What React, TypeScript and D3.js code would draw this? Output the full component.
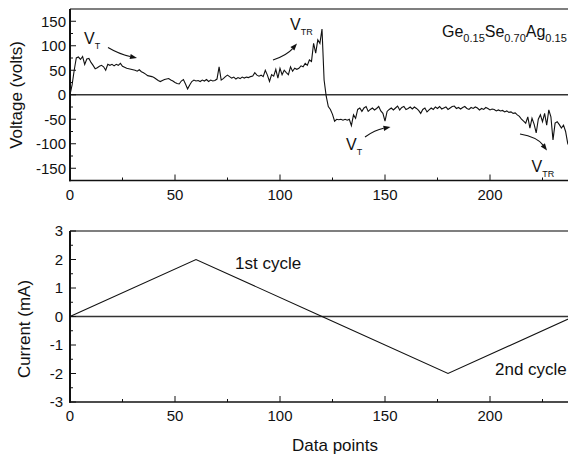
import React from "react";
import * as d3 from "d3";

// Voltage (volts) per data point, index 0..237
const voltage: number[] = [
  0, 20, 50, 75, 77, 72, 78, 62, 73, 74, 66,
  60, 53, 55, 58, 60, 57, 50, 62, 60, 62,
  59, 62, 60, 64, 58, 56, 54, 53, 52, 51,
  50, 48, 51, 47, 45, 42, 39, 38, 37, 35,
  32, 29, 27, 29, 31, 32, 33, 30, 28, 25,
  23, 22, 28, 31, 22, 12, 20, 27, 30, 28,
  29, 27, 30, 28, 31, 27, 30, 28, 29, 32,
  57, 30, 33, 37, 40, 37, 34, 36, 32, 35,
  33, 36, 34, 36, 35, 37, 38, 45, 40, 38,
  40, 37, 50, 40, 27, 41, 38, 52, 34, 54,
  41, 50, 45, 41, 57, 48, 54, 52, 54, 59,
  57, 64, 60, 71, 68, 105, 85, 112, 105, 134,
  30, -3, -24, -30, -40, -54, -50, -51, -50, -52,
  -50, -52, -50, -63, -41, -48, -30, -27, -34, -27,
  -24, -34, -30, -27, -31, -28, -24, -33, -38, -54,
  -34, -30, -27, -31, -27, -23, -31, -26, -24, -30,
  -28, -25, -29, -25, -28, -32, -38, -30, -27, -35,
  -31, -27, -30, -25, -28, -24, -29, -27, -25, -30,
  -27, -24, -23, -28, -26, -29, -26, -24, -28, -30,
  -26, -28, -25, -27, -31, -28, -30, -26, -28, -31,
  -29, -30, -33, -31, -33, -32, -35, -33, -36, -35,
  -38, -37, -41, -44, -50, -54, -58, -45, -68, -48,
  -60, -78, -50, -41, -55, -38, -62, -31, -45, -92,
  -58, -55, -61, -68, -62, -75, -99, -109,
];

// Current (mA) vertices of the triangular sweep
const currentPoints: number[] = [0, 60, 120, 180, 240];
const currentValues: number[] = [0, 2, 0, -2, 0];

const xTicks: number[] = [0, 50, 100, 150, 200];
const xMinorTicks: number[] = [25, 75, 125, 175, 225];
const voltageTicks: number[] = [-150, -100, -50, 0, 50, 100, 150];
const voltageMinorTicks: number[] = [-125, -75, -25, 25, 75, 125];
const currentTicks: number[] = [-3, -2, -1, 0, 1, 2, 3];
const currentMinorTicks: number[] = [-2.5, -1.5, -0.5, 0.5, 1.5, 2.5];

const FONT = "'Liberation Sans', Arial, Helvetica, sans-serif";

export default function App() {
  const W = 568;
  const H = 454;
  const x = d3.scaleLinear().domain([0, 240]).range([70, 574]);
  const yV = d3.scaleLinear().domain([-175, 175]).range([180.5, 9]);
  const yI = d3.scaleLinear().domain([-3, 3]).range([402, 231]);

  const vLine = d3
    .line<number>()
    .x((_, i) => x(i))
    .y((d) => yV(d));
  const iLine = d3
    .line<number>()
    .x((_, i) => x(currentPoints[i]))
    .y((d) => yI(d));

  const frameColor = "#555";

  const panel = (
    y: d3.ScaleLinear<number, number>,
    major: number[],
    minor: number[],
    labelRight: number
  ) => {
    const [yb, yt] = y.range();
    return (
      <g>
        <line x1={70} x2={W} y1={yt} y2={yt} stroke={frameColor} strokeWidth={1.3} />
        <line x1={70} x2={W} y1={y(0)} y2={y(0)} stroke="#333" strokeWidth={1.3} />
        <line x1={69} x2={W} y1={yb} y2={yb} stroke="#111" strokeWidth={1.6} />
        <line x1={70} x2={70} y1={yt} y2={yb + 0.8} stroke="#111" strokeWidth={2} />
        {xTicks.map((t) => (
          <g key={"xt" + t}>
            <line x1={x(t)} x2={x(t)} y1={yb} y2={yb - 6} stroke="#111" strokeWidth={1} />
            <text
              x={x(t)}
              y={yb + 19}
              textAnchor="middle"
              fontFamily={FONT}
              fontSize={15}
              fill="#111"
            >
              {t}
            </text>
          </g>
        ))}
        {xMinorTicks.map((t) => (
          <line key={"xm" + t} x1={x(t)} x2={x(t)} y1={yb} y2={yb - 3} stroke="#111" strokeWidth={1} />
        ))}
        {major.map((t) => (
          <g key={"yt" + t}>
            <line x1={70} x2={76} y1={y(t)} y2={y(t)} stroke="#111" strokeWidth={1} />
            <text
              x={labelRight}
              y={y(t)}
              dy="0.36em"
              textAnchor="end"
              fontFamily={FONT}
              fontSize={15}
              fill="#111"
            >
              {t}
            </text>
          </g>
        ))}
        {minor.map((t) => (
          <line key={"ym" + t} x1={70} x2={73} y1={y(t)} y2={y(t)} stroke="#111" strokeWidth={1} />
        ))}
      </g>
    );
  };

  const arrow = (
    x1: number,
    y1: number,
    cx: number,
    cy: number,
    x2: number,
    y2: number
  ) => {
    const ang = Math.atan2(y2 - cy, x2 - cx);
    const L = 7;
    const w = 2.6;
    const bx = x2 - L * Math.cos(ang);
    const by = y2 - L * Math.sin(ang);
    const px = -Math.sin(ang) * w;
    const py = Math.cos(ang) * w;
    return (
      <g>
        <path
          d={`M${x1},${y1} Q${cx},${cy} ${bx},${by}`}
          fill="none"
          stroke="#111"
          strokeWidth={1.1}
        />
        <path d={`M${x2},${y2} L${bx + px},${by + py} L${bx - px},${by - py} Z`} fill="#111" />
      </g>
    );
  };

  const vLabel = (xx: number, yy: number, sub: string) => (
    <text x={xx} y={yy} fontFamily={FONT} fontSize={16} fill="#111">
      V
      <tspan fontSize={9} dy={5}>
        {sub}
      </tspan>
    </text>
  );

  return (
    <svg
      width={W}
      height={H}
      style={{ position: "absolute", left: 0, top: 0, background: "#fff" }}
    >
      <rect width={W} height={H} fill="#fff" />
      {panel(yV, voltageTicks, voltageMinorTicks, 66)}
      {panel(yI, currentTicks, currentMinorTicks, 63)}

      <path d={vLine(voltage) || ""} fill="none" stroke="#111" strokeWidth={1.1} />
      <path d={iLine(currentValues) || ""} fill="none" stroke="#111" strokeWidth={1.1} />

      <text
        transform="translate(22,95) rotate(-90)"
        textAnchor="middle"
        fontFamily={FONT}
        fontSize={17}
        fill="#111"
      >
        Voltage (volts)
      </text>
      <text
        transform="translate(30,329) rotate(-90)"
        textAnchor="middle"
        fontFamily={FONT}
        fontSize={17}
        fill="#111"
      >
        Current (mA)
      </text>
      <text x={292} y={451} fontFamily={FONT} fontSize={17} fill="#111">
        Data points
      </text>

      <text x={442} y={36.5} fontFamily={FONT} fontSize={16} fill="#111">
        Ge
        <tspan fontSize={11} dy={5}>0.15</tspan>
        <tspan dy={-5}>Se</tspan>
        <tspan fontSize={11} dy={5}>0.70</tspan>
        <tspan dy={-5}>Ag</tspan>
        <tspan fontSize={11} dy={5}>0.15</tspan>
      </text>

      {vLabel(84, 43.5, "T")}
      {arrow(108, 47.5, 119, 54, 137, 58)}
      {vLabel(290, 30, "TR")}
      {arrow(273, 60, 287, 55, 297, 43.5)}
      {vLabel(346, 150, "T")}
      {arrow(365, 137, 375, 130, 390.5, 127)}
      {vLabel(531.5, 171.5, "TR")}
      {arrow(520, 134, 537, 137, 547, 150.5)}

      <text x={235} y={268.5} fontFamily={FONT} fontSize={17} fill="#111">
        1st cycle
      </text>
      <text x={495} y={375} fontFamily={FONT} fontSize={17} fill="#111">
        2nd cycle
      </text>
    </svg>
  );
}
